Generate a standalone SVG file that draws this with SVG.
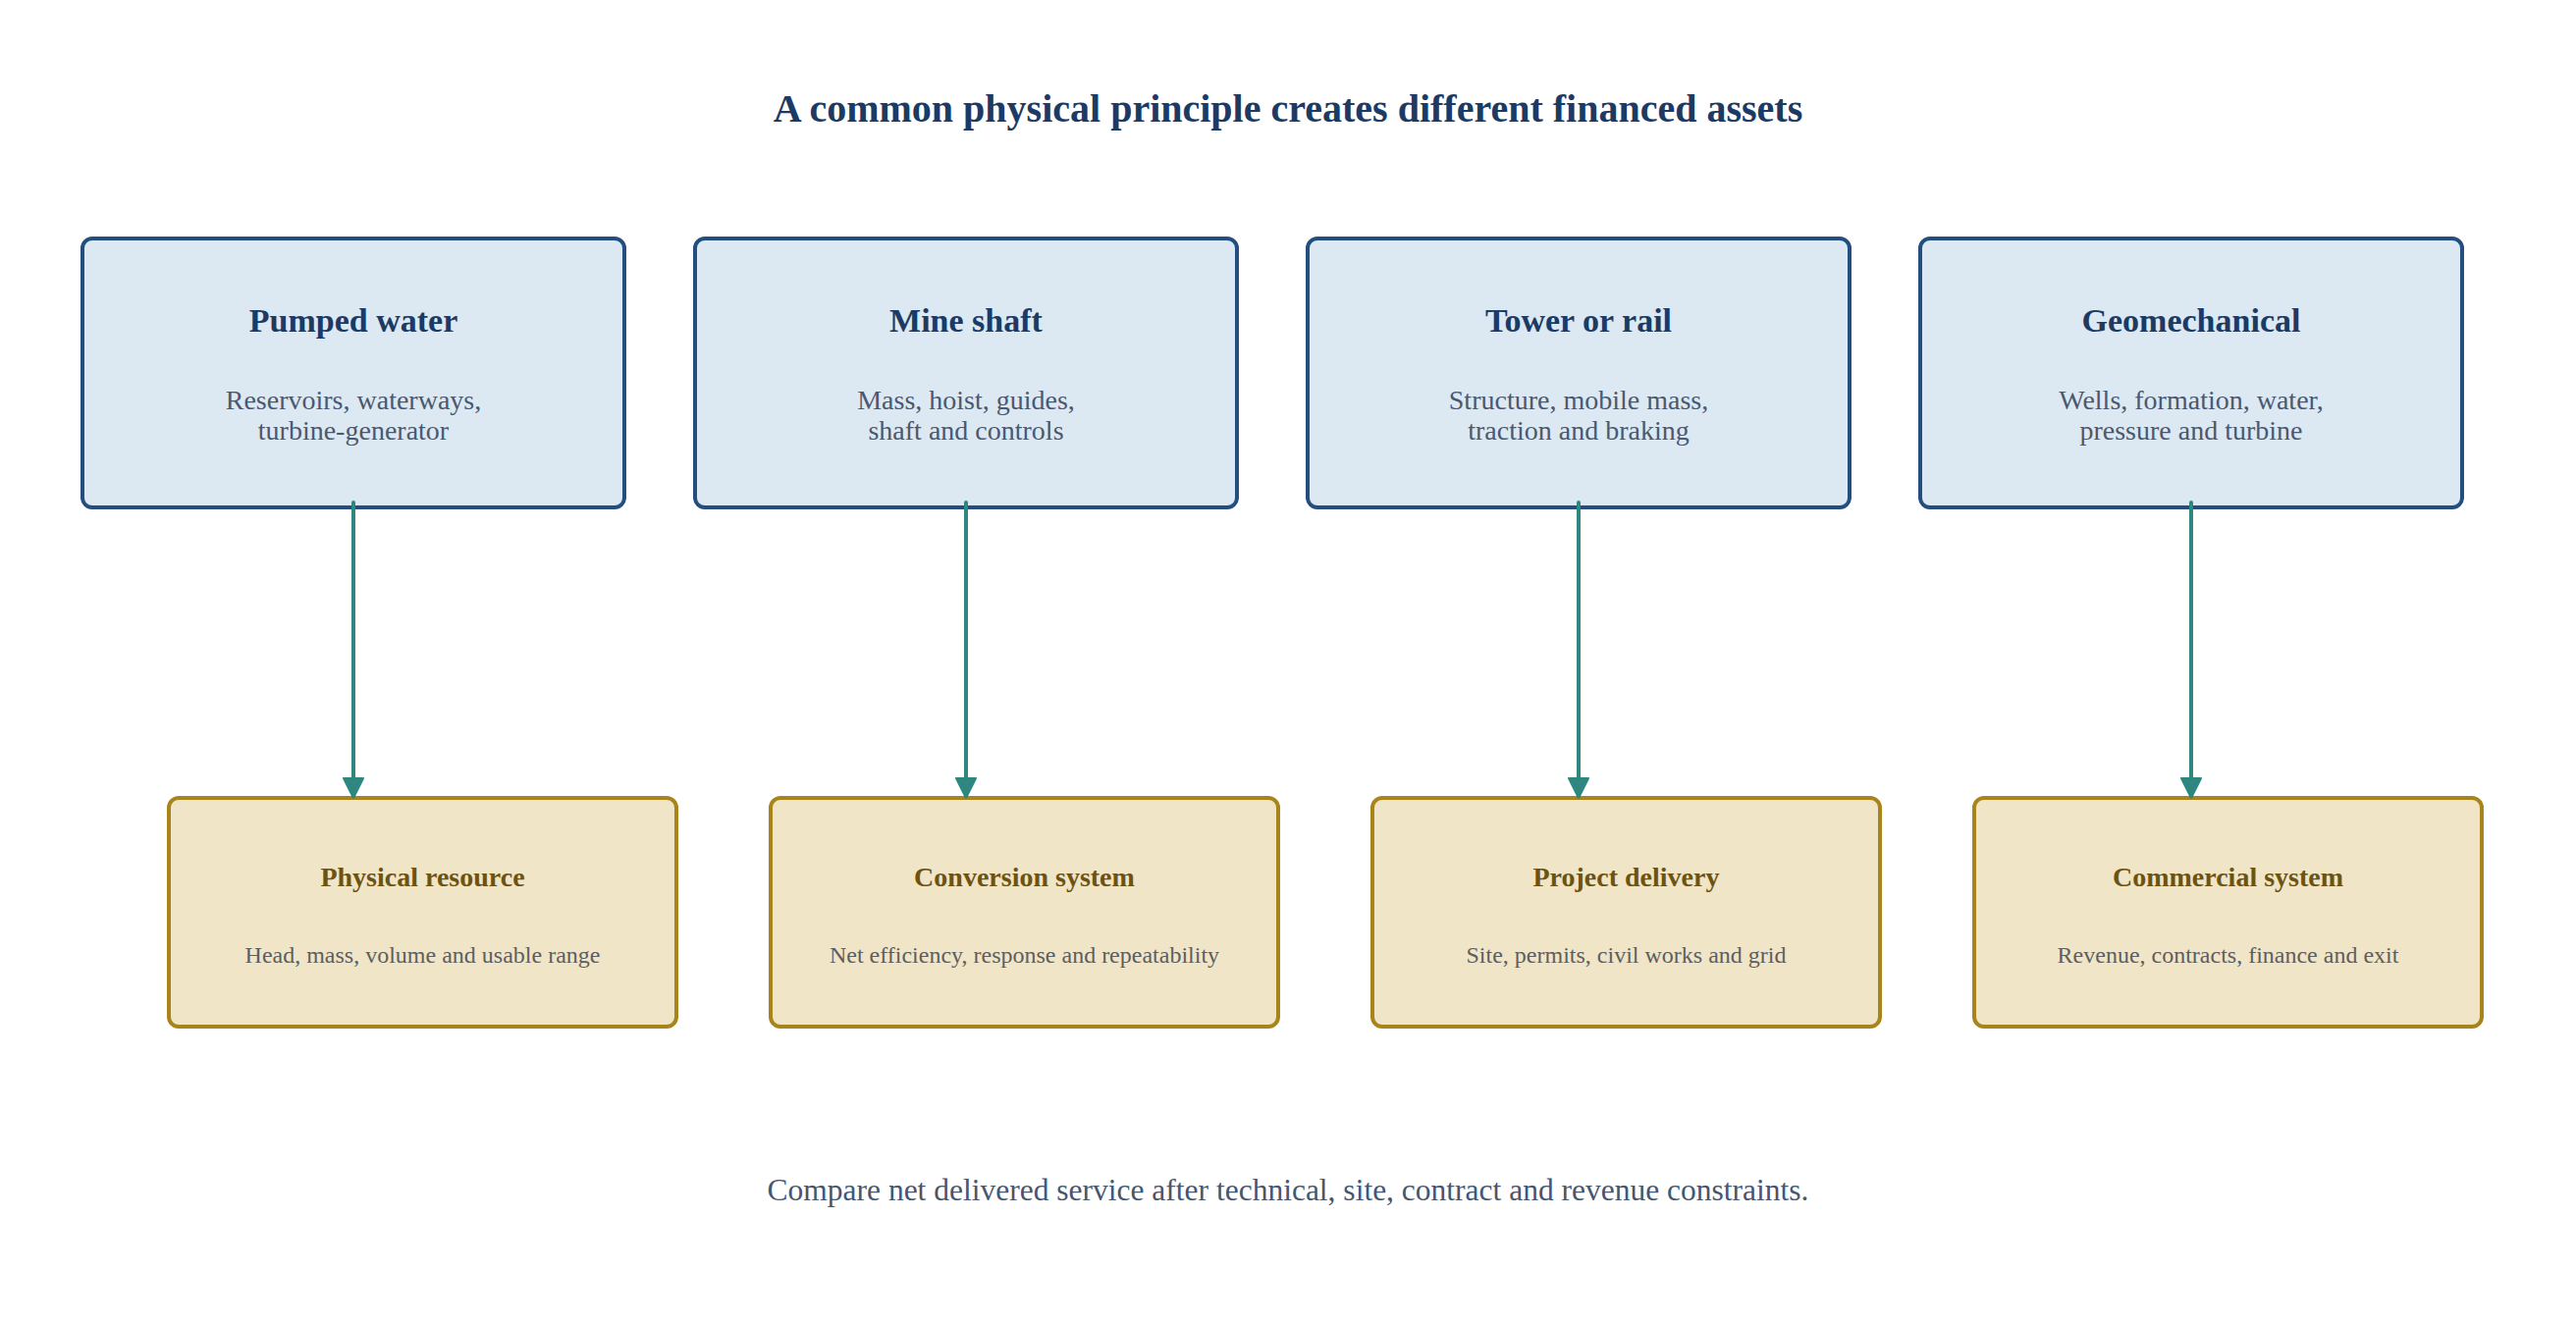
<svg xmlns="http://www.w3.org/2000/svg" width="2624" height="1348" viewBox="0 0 2624 1348">
  <style>
    .top rect { fill: #dce8f2; stroke: #244e80; stroke-width: 4; }
    .bot rect { fill: #f0e5c7; stroke: #a8841a; stroke-width: 4; }
    text { font-family: "Liberation Serif", "Times New Roman", serif; text-anchor: middle; }
    .ttl { font-size: 40px; font-weight: bold; fill: #1b3a64; }
    .th { font-size: 34px; font-weight: bold; fill: #1b3a64; }
    .ts { font-size: 28px; fill: #4a5870; }
    .bh { font-size: 28px; font-weight: bold; fill: #6d5312; }
    .bs { font-size: 24px; fill: #5e5e5e; }
    .foot { font-size: 31.5px; fill: #46566f; }
    .conn line { stroke: #2e8880; stroke-width: 4; stroke-linecap: round; }
  </style>
  <defs>
    <marker id="arr" viewBox="0 0 22 22" markerWidth="22" markerHeight="22" refX="8" refY="11" orient="auto" markerUnits="userSpaceOnUse">
      <path d="M1,1 L21,11 L1,21 z" fill="#2e8880" stroke="#2e8880" stroke-width="2" stroke-linejoin="round"/>
    </marker>
  </defs>
  <rect width="2624" height="1348" fill="#ffffff"/>
  <text class="ttl" x="1312" y="124">A common physical principle creates different financed assets</text>

  <g id="pumped-water" class="top">
    <rect x="84" y="243" width="552" height="274" rx="10"/>
    <text class="th" x="360" y="338">Pumped water</text>
    <text class="ts" x="360" y="417">Reservoirs, waterways,</text>
    <text class="ts" x="360" y="448">turbine-generator</text>
  </g>
  <g id="mine-shaft" class="top">
    <rect x="708" y="243" width="552" height="274" rx="10"/>
    <text class="th" x="984" y="338">Mine shaft</text>
    <text class="ts" x="984" y="417">Mass, hoist, guides,</text>
    <text class="ts" x="984" y="448">shaft and controls</text>
  </g>
  <g id="tower-or-rail" class="top">
    <rect x="1332" y="243" width="552" height="274" rx="10"/>
    <text class="th" x="1608" y="338">Tower or rail</text>
    <text class="ts" x="1608" y="417">Structure, mobile mass,</text>
    <text class="ts" x="1608" y="448">traction and braking</text>
  </g>
  <g id="geomechanical" class="top">
    <rect x="1956" y="243" width="552" height="274" rx="10"/>
    <text class="th" x="2232" y="338">Geomechanical</text>
    <text class="ts" x="2232" y="417">Wells, formation, water,</text>
    <text class="ts" x="2232" y="448">pressure and turbine</text>
  </g>

  <g id="physical-resource" class="bot">
    <rect x="172" y="813" width="517" height="233" rx="10"/>
    <text class="bh" x="430.5" y="903">Physical resource</text>
    <text class="bs" x="430.5" y="981">Head, mass, volume and usable range</text>
  </g>
  <g id="conversion-system" class="bot">
    <rect x="785" y="813" width="517" height="233" rx="10"/>
    <text class="bh" x="1043.5" y="903">Conversion system</text>
    <text class="bs" x="1043.5" y="981">Net efficiency, response and repeatability</text>
  </g>
  <g id="project-delivery" class="bot">
    <rect x="1398" y="813" width="517" height="233" rx="10"/>
    <text class="bh" x="1656.5" y="903">Project delivery</text>
    <text class="bs" x="1656.5" y="981">Site, permits, civil works and grid</text>
  </g>
  <g id="commercial-system" class="bot">
    <rect x="2011" y="813" width="517" height="233" rx="10"/>
    <text class="bh" x="2269.5" y="903">Commercial system</text>
    <text class="bs" x="2269.5" y="981">Revenue, contracts, finance and exit</text>
  </g>

  <g id="connectors" class="conn">
    <line x1="360" y1="512" x2="360" y2="800" marker-end="url(#arr)"/>
    <line x1="984" y1="512" x2="984" y2="800" marker-end="url(#arr)"/>
    <line x1="1608" y1="512" x2="1608" y2="800" marker-end="url(#arr)"/>
    <line x1="2232" y1="512" x2="2232" y2="800" marker-end="url(#arr)"/>
  </g>

  <text class="foot" x="1312" y="1223">Compare net delivered service after technical, site, contract and revenue constraints.</text>
</svg>
